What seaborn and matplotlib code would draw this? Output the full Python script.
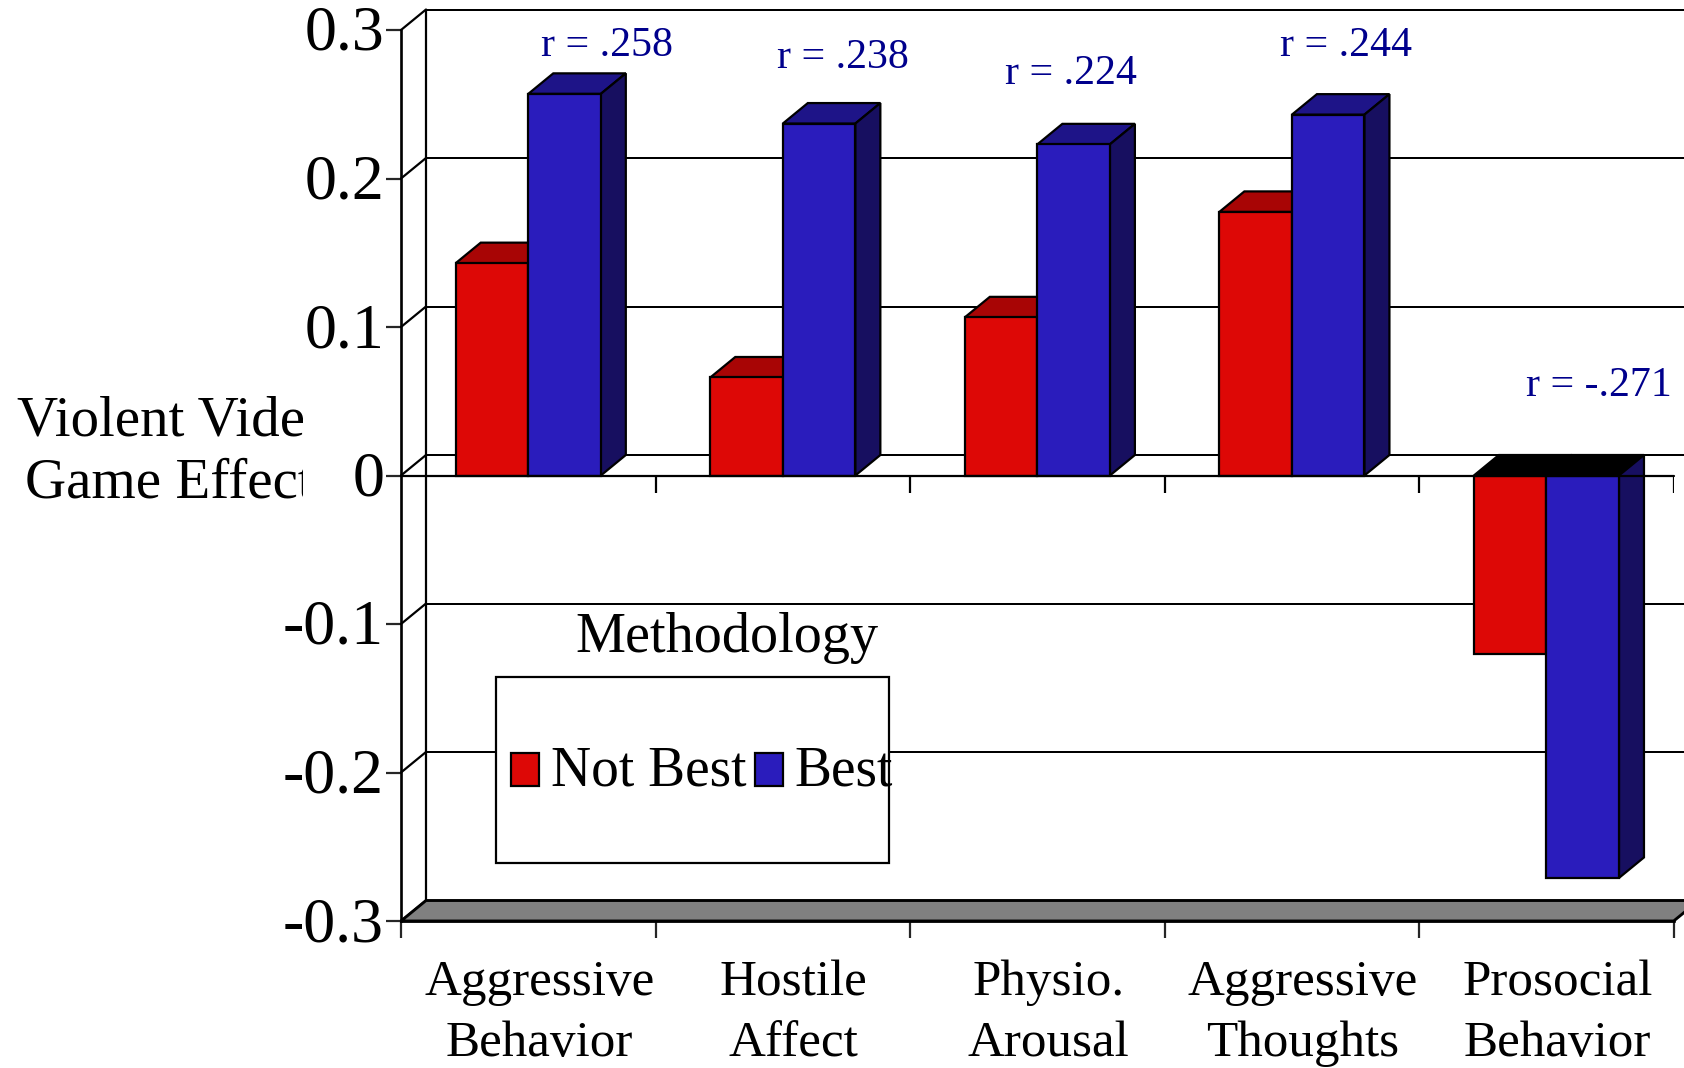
import matplotlib
matplotlib.use("Agg")
import matplotlib.pyplot as plt
import pandas as pd
import seaborn as sns
from matplotlib.patches import Patch, Polygon, Rectangle
from matplotlib.transforms import Affine2D, Bbox, ScaledTranslation, TransformedBbox

# values
constructs = ["Aggressive\nBehavior", "Hostile\nAffect", "Physio.\nArousal",
              "Aggressive\nThoughts", "Prosocial\nBehavior"]
not_best = [0.143, 0.066, 0.1065, 0.1775, -0.1205]
best = [0.257, 0.237, 0.223, 0.243, -0.271]
r_labels = ["r = .258", "r = .238", "r = .224", "r = .244", "r = -.271"]
y_ticks = [0.3, 0.2, 0.1, 0, -0.1, -0.2, -0.3]
y_labels = ["0.3", "0.2", "0.1", "0", "-0.1", "-0.2", "-0.3"]

RED, BLUE = "#DD0806", "#2A1CBC"
TOPS = {RED: "#A80505", BLUE: "#1E1488"}
SIDE = "#170F60"
NAVY = "#00008C"
W, H = 1684, 1068
LW = 1.6

sns.set_theme(style="white")
plt.rcParams["font.family"] = ["Liberation Serif", "DejaVu Serif"]
plt.rcParams["text.color"] = "black"

df = pd.DataFrame({
    "construct": constructs * 2,
    "r": not_best + best,
    "method": ["Not Best"] * 5 + ["Best"] * 5,
})

fig = plt.figure(figsize=(W / 100, H / 100), dpi=100)
ax = fig.add_axes([401 / W, 1 - 921 / H, 1272.7 / W, 891 / H])
px = Affine2D().scale(1 / W, -1 / H).translate(0, 1) + fig.transFigure

sns.barplot(data=df, x="construct", y="r", hue="method", palette=[RED, BLUE],
            width=0.57, gap=0, saturation=1, edgecolor="black", linewidth=LW,
            legend=False, zorder=3, ax=ax)
ax.set_xlim(-0.5, 4.5)
ax.set_ylim(-0.3, 0.3)
ax.set_xlabel("")
ax.set_ylabel("")

# depth of the fake 3D, in data units
dx = 25 / 254.5
dy = 20.5 / 1485.0
left, right = ax.get_xlim()

# back wall, floor and side wall
for y in y_ticks[:-1]:
    ax.plot([left + dx, right + dx], [y + dy, y + dy], color="black", lw=LW * 0.9,
            clip_on=False, zorder=1)
for y in y_ticks:
    ax.plot([left, left + dx], [y, y + dy], color="black", lw=LW, clip_on=False, zorder=1)
ax.plot([left + dx, left + dx], [-0.3 + dy, 0.3 + dy], color="black", lw=LW,
        clip_on=False, zorder=1)
ax.add_patch(Polygon([(left, -0.3), (right, -0.3), (right + dx, -0.3 + dy), (left + dx, -0.3 + dy)],
                     closed=True, facecolor="#808080", edgecolor="black", lw=LW * 1.3,
                     clip_on=False, zorder=1.5))

# top and side faces of the bars
for container, color in zip(ax.containers, [RED, BLUE]):
    for bar in container:
        x0, x1 = bar.get_x(), bar.get_x() + bar.get_width()
        v = bar.get_height() + bar.get_y()
        top = max(v, 0)
        top_color = TOPS[color] if v > 0 else "black"
        ax.add_patch(Polygon([(x0, top), (x1, top), (x1 + dx, top + dy), (x0 + dx, top + dy)],
                             closed=True, facecolor=top_color, edgecolor="black", lw=LW,
                             clip_on=False, zorder=2))
        ax.add_patch(Polygon([(x1, 0), (x1 + dx, dy), (x1 + dx, v + dy), (x1, v)],
                             closed=True, facecolor=SIDE, edgecolor="black", lw=LW,
                             clip_on=False, zorder=2))

# zero line and the ticks between categories
bounds = [left + i for i in range(6)]
ax.plot([left, right], [0, 0], color="black", lw=LW, clip_on=False, zorder=4)
ax.vlines(bounds[1:], 0, -17 / 1485.0, color="black", lw=LW, zorder=4)

sns.despine(ax=ax, top=True, right=True)
for s in ["left", "bottom"]:
    ax.spines[s].set_linewidth(LW * 1.2)
    ax.spines[s].set_color("black")
    ax.spines[s].set_zorder(2.5)

ax.set_yticks(y_ticks, y_labels)
ax.tick_params(axis="y", left=True, length=11, width=LW, labelsize=46, pad=1.2, labelcolor="black")
lift = ScaledTranslation(0, 2 / 100, fig.dpi_scale_trans)
for t in ax.get_yticklabels():
    t.set_transform(t.get_transform() + lift)
ax.set_xticks(bounds, minor=True)
ax.tick_params(axis="x", which="minor", bottom=True, length=12.5, width=LW)
ax.set_xticks([i + 11 / 254.5 for i in range(5)], constructs)
ax.tick_params(axis="x", which="major", length=0, labelsize=36.8, pad=28, labelcolor="black")
for t in ax.get_xticklabels():
    t.set_linespacing(1.4)

# r labels above the bars
label_pos = [(607, 46), (843, 58), (1071, 74), (1346, 46), (1599, 386)]
for s, (x, y) in zip(r_labels, label_pos):
    fig.text(x, y, s, transform=px, color=NAVY, fontsize=30.2, ha="center", va="center")

# axis title, cut off by the tick label area like the original
clip = TransformedBbox(Bbox([[0, 0], [303 / W, 1]]), fig.transFigure)
for s, x, y in [("Violent Video", 17, 436), ("Game Effect", 25, 498)]:
    t = fig.text(x, y, s, transform=px, fontsize=41, ha="left", va="baseline", color="black")
    t.set_clip_box(clip)
    t.set_clip_on(True)

# legend box
ax.add_patch(Rectangle((496, 676.5), 393, 186, transform=px, facecolor="white", edgecolor="black",
                       lw=LW, clip_on=False, zorder=5))
fig.text(727, 638, "Methodology", transform=px, fontsize=40.5, ha="center", va="center", color="black")
handles = [Patch(facecolor=RED, edgecolor="black", lw=LW, label="Not Best"),
           Patch(facecolor=BLUE, edgecolor="black", lw=LW, label="Best")]
leg = ax.legend(handles=handles, ncol=2, frameon=False, fontsize=40, loc="center left",
                bbox_to_anchor=(511, 772), bbox_transform=px, borderpad=0, borderaxespad=0,
                handlelength=0.5, handleheight=0.54, handletextpad=0.22, columnspacing=0.15,
                labelspacing=0, labelcolor="black")
leg.set_zorder(6)
for h in leg.legend_handles:
    h.set_y(h.get_y() - 2.5)

fig.savefig("out.png", dpi=100)
